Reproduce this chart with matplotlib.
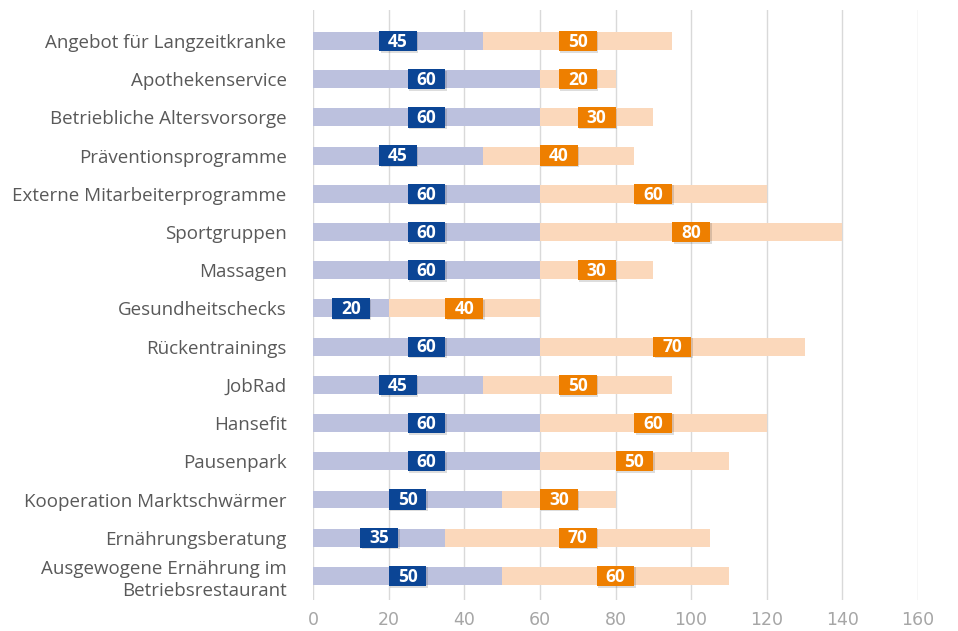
import matplotlib
matplotlib.use('Agg')
import matplotlib.pyplot as plt
import numpy as np

categories = [
    'Angebot für Langzeitkranke',
    'Apothekenservice',
    'Betriebliche Altersvorsorge',
    'Präventionsprogramme',
    'Externe Mitarbeiterprogramme',
    'Sportgruppen',
    'Massagen',
    'Gesundheitschecks',
    'Rückentrainings',
    'JobRad',
    'Hansefit',
    'Pausenpark',
    'Kooperation Marktschwärmer',
    'Ernährungsberatung',
    'Ausgewogene Ernährung im\nBetriebsrestaurant',
]
first = [45, 60, 60, 45, 60, 60, 60, 20, 60, 45, 60, 60, 50, 35, 50]
second = [50, 20, 30, 40, 60, 80, 30, 40, 70, 50, 60, 50, 30, 70, 60]
xticks = [0, 20, 40, 60, 80, 100, 120, 140, 160]

plt.rcParams['font.family'] = ['Open Sans', 'DejaVu Sans']

fig = plt.figure(figsize=(9.58, 6.31), dpi=100)
ax = fig.add_axes([313/958, 1 - 600/631, (918 - 313)/958, 590/631])

y = np.arange(len(categories))
h = 0.47
ax.barh(y, first, height=h, color='#bcc1de', zorder=2)
ax.barh(y, second, left=first, height=h, color='#fbd8bb', zorder=2)

# label boxes (about 38x20 px)
bw, bh = 10, 0.53
c1 = np.array(first) / 2
c2 = np.array(first) + np.array(second) / 2
ax.barh(y + 0.04, bw, left=np.concatenate([c1]) - bw/2 + 0.4, height=bh, color='#00000022', zorder=3)
ax.barh(y + 0.04, bw, left=c2 - bw/2 + 0.4, height=bh, color='#00000022', zorder=3)
ax.barh(y, bw, left=c1 - bw/2, height=bh, color='#0b4595', zorder=3)
ax.barh(y, bw, left=c2 - bw/2, height=bh, color='#ee7f00', zorder=3)

for i in range(len(categories)):
    ax.text(c1[i], y[i] + 0.02, str(first[i]), ha='center', va='center',
            color='white', fontsize=12.5, fontweight='bold', zorder=4)
    ax.text(c2[i], y[i] + 0.02, str(second[i]), ha='center', va='center',
            color='white', fontsize=12.5, fontweight='bold', zorder=4)

ax.set_xlim(0, 160)
ax.set_ylim(14.63, -0.81)
ax.set_xticks(xticks)
ax.set_xticklabels([str(t) for t in xticks], color='#a6a6a6', fontsize=12.5,
                   family=['Liberation Sans Narrow', 'DejaVu Sans'])
ax.set_yticks(y)
ax.set_yticklabels(categories, color='#595959', fontsize=13.5, ha='right',
                   linespacing=1.3)
ax.tick_params(axis='y', length=0, pad=19)
ax.tick_params(axis='x', length=0, pad=8)

ax.grid(axis='x', color='#d9d9d9', linewidth=1, zorder=0)
for s in ax.spines.values():
    s.set_visible(False)

plt.savefig('out.png', dpi=100)
